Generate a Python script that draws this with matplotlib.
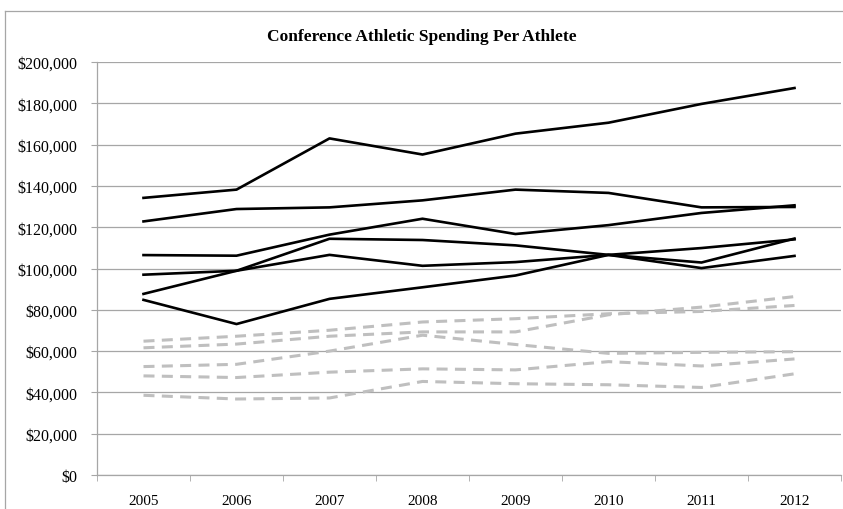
import matplotlib.pyplot as plt
from matplotlib.lines import Line2D
from matplotlib.ticker import FuncFormatter, FixedLocator

years = ["2005", "2006", "2007", "2008", "2009", "2010", "2011", "2012"]

# BCS conferences (solid black)
solid_a = [134200, 138200, 163000, 155200, 165300, 170600, 179700, 187400]
solid_b = [122800, 128800, 129600, 133000, 138200, 136600, 129600, 129800]
solid_c = [106500, 106200, 116400, 124100, 116700, 121000, 126900, 130600]
solid_d = [97000, 98900, 106600, 101300, 103100, 106600, 109900, 114100]
solid_e = [87700, 98900, 114400, 113800, 111200, 106600, 100200, 106100]
solid_f = [84800, 73100, 85300, 90900, 96600, 106600, 102900, 114500]

# non-BCS conferences (dashed grey)
dash_a = [64800, 67200, 70100, 74100, 75700, 78100, 79200, 82100]
dash_b = [61600, 63400, 67200, 69300, 69300, 77600, 81300, 86400]
dash_c = [52500, 53600, 60000, 67700, 63200, 58900, 59400, 59700]
dash_d = [48000, 47200, 49800, 51400, 50900, 54900, 52800, 56200]
dash_e = [38600, 36800, 37300, 45300, 44200, 43700, 42400, 49000]

solid_series = [solid_a, solid_b, solid_c, solid_d, solid_e, solid_f]
dash_series = [dash_a, dash_b, dash_c, dash_d, dash_e]

plt.rcParams['font.family'] = ['Liberation Serif', 'DejaVu Serif']

fig = plt.figure(figsize=(8.43, 5.10), dpi=100)
ax = fig.add_axes([97 / 843, 1 - 476 / 510, (841 - 97) / 843, (476 - 63) / 510])

x = list(range(len(years)))
for s in dash_series:
    ax.plot(x, s, color='#BFBFBF', lw=2.2, dashes=(3.6, 2.4), solid_capstyle='butt')
for s in solid_series:
    ax.plot(x, s, color='black', lw=1.9)

ax.set_ylim(0, 200000)
ax.set_xlim(-0.5, len(years) - 0.5)
ax.set_yticks(range(0, 200001, 20000))
ax.yaxis.set_major_formatter(FuncFormatter(lambda v, p: f"${int(v):,}"))
ax.grid(axis='y', color='#A6A6A6', lw=0.9)
ax.set_axisbelow(True)

ax.set_xticks(x)
ax.set_xticklabels(years)
ax.xaxis.set_minor_locator(FixedLocator([i - 0.5 for i in range(len(years) + 1)]))
ax.tick_params(axis='x', which='major', length=0, pad=14, labelsize=11)
ax.tick_params(axis='x', which='minor', length=4, color='#A6A6A6', direction='out')
ax.tick_params(axis='y', length=4.3, color='#A6A6A6', labelsize=11.5, pad=10)

for side in ['top', 'right']:
    ax.spines[side].set_visible(False)
for side in ['left', 'bottom']:
    ax.spines[side].set_color('#A6A6A6')
    ax.spines[side].set_linewidth(0.9)

fig.text(0.5, 1 - 37 / 510, "Conference Athletic Spending Per Athlete",
         ha='center', va='center', fontsize=12.5, fontweight='bold')

# chart area border
fig.add_artist(Line2D([5 / 843, 5 / 843], [0, 1 - 12 / 510], transform=fig.transFigure,
                      color='#A6A6A6', lw=0.9))
fig.add_artist(Line2D([5 / 843, 1], [1 - 12 / 510, 1 - 12 / 510], transform=fig.transFigure,
                      color='#A6A6A6', lw=0.9))

fig.savefig('out.png', dpi=100)
